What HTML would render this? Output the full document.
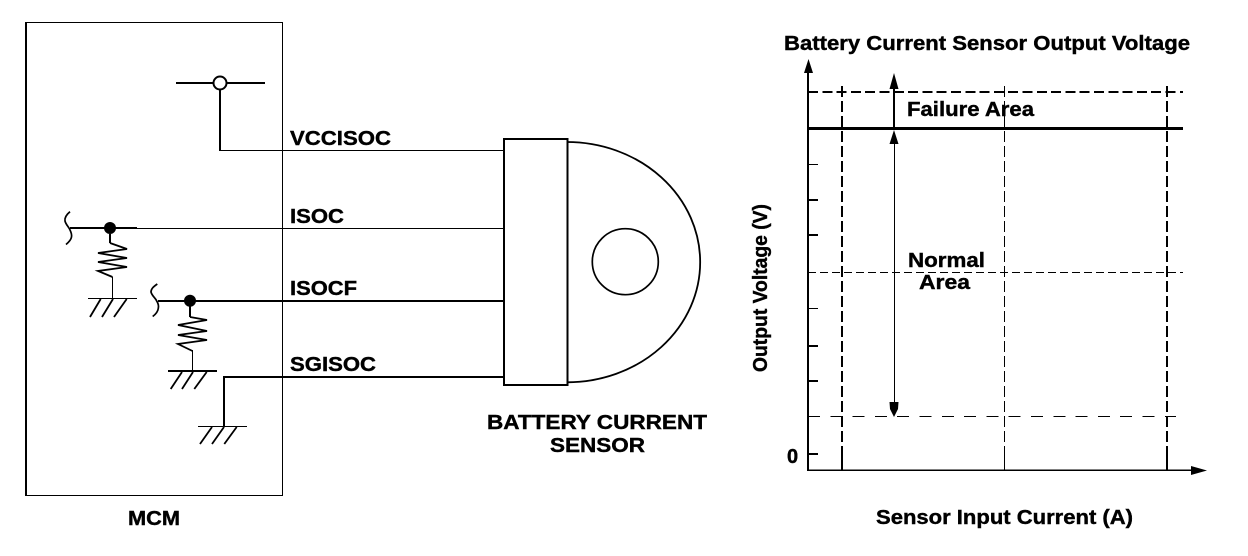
<!DOCTYPE html>
<html><head><meta charset="utf-8"><style>
html,body{margin:0;padding:0;background:#fff}
svg{display:block}
text{font-family:"Liberation Sans",sans-serif;font-weight:bold;fill:#000;stroke:#000;stroke-width:.4px;font-size:20px}
</style></head><body>
<svg width="1248" height="556" viewBox="0 0 1248 556" xmlns="http://www.w3.org/2000/svg" fill="none" stroke="#000">
<rect width="1248" height="556" fill="#fff" stroke="none"/>
<g shape-rendering="crispEdges">
<!-- MCM -->
<path d="M26 22.500H282.500V495.500H26" stroke-width="1"/>
<path d="M26 22V496" stroke-width="2"/>
<!-- VCC -->
<path d="M176 83H265" stroke-width="2"/>
<path d="M220 90V151" stroke-width="2"/>
<path d="M220 150.500H504" stroke-width="1"/>
<!-- ISOC -->
<path d="M70 228H137" stroke-width="2"/>
<path d="M137 228.500H504" stroke-width="1"/>
<path d="M110 234V243" stroke-width="2"/>
<path d="M112.500 277V298" stroke-width="1"/>
<path d="M88 298.500H137" stroke-width="1"/>
<!-- ISOCF -->
<path d="M158 301H504" stroke-width="2"/>
<path d="M190 306V317" stroke-width="2"/>
<path d="M192.500 350V371" stroke-width="1"/>
<path d="M168 371H217" stroke-width="2"/>
<!-- SGISOC -->
<path d="M504 377H224V426" stroke-width="2"/>
<path d="M198 426.500H247" stroke-width="1"/>
<!-- Chart -->
<path d="M808 70V471" stroke-width="2"/>
<path d="M894 85V128" stroke-width="2"/>
<path d="M894.500 140V405" stroke-width="1"/>
<path d="M808 92H1183" stroke-width="2" stroke-dasharray="10 4.300"/>
<path d="M808 128.500H1183" stroke-width="3"/>
<path d="M808 272.500H1183" stroke-width="1" stroke-dasharray="8 4"/>
<path d="M808 416.500H1176" stroke-width="1" stroke-dasharray="12 10.300"/>
<path d="M842 86V448" stroke-width="2" stroke-dasharray="11 4"/>
<path d="M842 448V470" stroke-width="2"/>
<path d="M1004.500 86V448" stroke-width="1" stroke-dasharray="11 4"/>
<path d="M1004.500 448V470" stroke-width="1"/>
<path d="M1167 86V448" stroke-width="2" stroke-dasharray="11 4"/>
<path d="M1167 448V470" stroke-width="2"/>
<path d="M808 164.500H818M808 308.500H818" stroke-width="1"/>
<path d="M808 200H818M808 235H818M808 346H818M808 381H818M808 454H818" stroke-width="2"/>
</g>
<path d="M808 470.300H1195" stroke-width="1.500"/>
<circle cx="220" cy="83" r="6.500" fill="#fff" stroke-width="2"/>
<circle cx="110" cy="228" r="6" fill="#000" stroke="none"/>
<path d="M70 211.700C66 215 64.500 218 65 221C66 225 69 227 70 230C71 232 72 234 71.500 237C71 240 69 242 66 244.500" stroke-width="1.700"/>
<path d="M110 243L127 249L98 253L127 258L98 262L127 267L98 271L112.500 277" stroke-width="1.800"/>
<path d="M100.700 299L90 317M113 299L102 317M126.700 299L114 317" stroke-width="1.800"/>
<circle cx="190" cy="300.700" r="6" fill="#000" stroke="none"/>
<path d="M157.300 284C153 287 151 289 151 292C152 296 155.500 298 156.700 301C158 303 159 305 158.300 308.300C158 311 156 314 152.700 316.500" stroke-width="1.700"/>
<path d="M190 317L207 320L178 325L207 331L178 335L207 340L178 344L192.500 351" stroke-width="1.800"/>
<path d="M182 372L170.700 389M193 372L182 389M206.700 372L194.300 389" stroke-width="1.800"/>
<path d="M212 427L200 444M224 427L212 444M236.700 427L224.300 444" stroke-width="1.800"/>
<!-- Sensor -->
<path d="M567 142A133 120 0 0 1 567 382.300" stroke-width="1.800"/>
<rect x="504" y="139" width="63.500" height="246" fill="#fff" stroke-width="2" shape-rendering="crispEdges"/>
<circle cx="625.300" cy="261.700" r="33" stroke-width="1.700"/>
<!-- Arrowheads -->
<path d="M808.500 59L804 73H813Z M1207 470.500L1191 466V475Z M894 73L889.500 89H898.500Z M894 130L889.500 144H898.500Z M894 417L890 409L889.500 402H898.500L898 409Z" fill="#000" stroke="none"/>
<g stroke="#000">
<text x="290" y="145" textLength="101" lengthAdjust="spacingAndGlyphs">VCCISOC</text>
<text x="290" y="223" textLength="54" lengthAdjust="spacingAndGlyphs">ISOC</text>
<text x="290" y="295" textLength="67" lengthAdjust="spacingAndGlyphs">ISOCF</text>
<text x="290" y="371" textLength="86" lengthAdjust="spacingAndGlyphs">SGISOC</text>
<text x="128" y="525" textLength="52" lengthAdjust="spacingAndGlyphs">MCM</text>
<text x="487" y="429" textLength="220" lengthAdjust="spacingAndGlyphs">BATTERY CURRENT</text>
<text x="550" y="452" textLength="95" lengthAdjust="spacingAndGlyphs">SENSOR</text>
<text x="784" y="50" textLength="406" lengthAdjust="spacingAndGlyphs">Battery Current Sensor Output Voltage</text>
<text x="907" y="116" textLength="127" lengthAdjust="spacingAndGlyphs">Failure Area</text>
<text x="908" y="267" textLength="77" lengthAdjust="spacingAndGlyphs">Normal</text>
<text x="919" y="289" textLength="51" lengthAdjust="spacingAndGlyphs">Area</text>
<text x="787" y="463">0</text>
<text x="876" y="524" textLength="257" lengthAdjust="spacingAndGlyphs">Sensor Input Current (A)</text>
<text transform="translate(767 372) rotate(-90)" textLength="168" lengthAdjust="spacingAndGlyphs">Output Voltage (V)</text>
</g>
</svg>
</body></html>
